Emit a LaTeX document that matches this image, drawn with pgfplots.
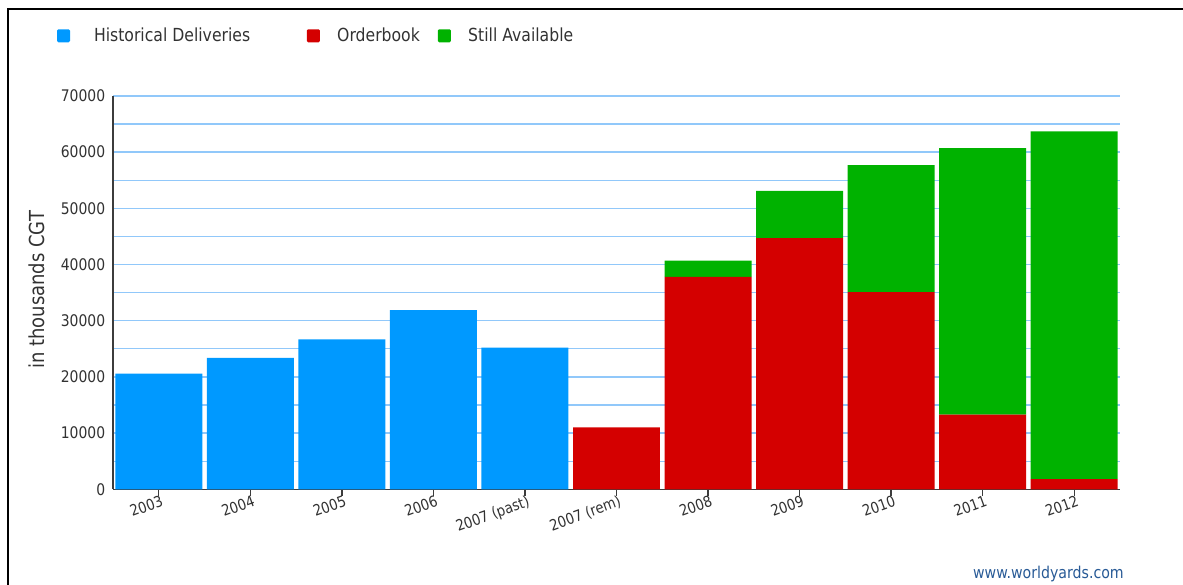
\documentclass[border=0pt]{standalone}
\usepackage{pgfplots}
\pgfplotsset{compat=1.18}
\usepackage{fontspec}
\setmainfont{DejaVu Sans}[FakeStretch=0.87]
\definecolor{cblue}{RGB}{0,153,255}
\definecolor{cred}{RGB}{212,0,0}
\definecolor{cgreen}{RGB}{0,178,0}
\definecolor{cgrid}{RGB}{145,200,250}
\definecolor{caxis}{RGB}{60,60,60}
\definecolor{ctext}{RGB}{50,50,50}
\definecolor{cwm}{RGB}{40,90,150}
\begin{document}
\begin{tikzpicture}
\path[use as bounding box] (0,0) rectangle (887.25pt,438.75pt);
\draw[line width=1.6pt,black] (6pt,-2pt) -- (6pt,432pt) -- (890pt,432pt);
\begin{axis}[
  at={(84.75pt,71.775pt)}, anchor=south west,
  scale only axis, width=755.25pt, height=295pt,
  ybar stacked, bar width=0.95,
  xmin=-0.5, xmax=10.5, ymin=0, ymax=70000,
  xtick={0,...,10},
  xticklabels={2003,2004,2005,2006,2007 (past),2007 (rem),2008,2009,2010,2011,2012},
  ytick={0,10000,...,70000},
  minor ytick={5000,15000,...,65000},
  ymajorgrids, yminorgrids,
  major grid style={color=cgrid, line width=1pt},
  minor grid style={color=cgrid, line width=1pt},
  axis x line*=bottom, axis y line*=left,
  axis line style={color=caxis, line width=1.1pt, -},
  tick align=center, major tick length=9.75pt, minor tick length=0pt,
  xtick style={color=caxis, line width=1pt},
  ytick style={draw=none},
  scaled y ticks=false,
  yticklabel style={font=\fontsize{12}{12}\selectfont, text=ctext, /pgf/number format/1000 sep={}, xshift=2.5pt},
  /pgf/number format/assume math mode=true,
  xticklabel style={font=\fontsize{11.4}{11.4}\selectfont, text=ctext, rotate=20, anchor=north east, inner sep=1pt, xshift=2.5pt, yshift=1.5pt},
  ylabel={in thousands CGT},
  ylabel style={font=\fontsize{15.5}{15.5}\selectfont, text=ctext, at={(axis description cs:-0.0755,0.507)}, anchor=center},
  legend columns=3,
  legend style={at={(axis description cs:-0.0556,1.153)}, anchor=west, draw=none, fill=none,
    inner sep=0pt, outer sep=0pt,
    font=\fontsize{13.5}{13.5}\selectfont, text=ctext,
    nodes={inner sep=0pt},
    /tikz/every odd column/.append style={column sep=13pt},
    /tikz/every even column/.append style={column sep=13.5pt}},
  legend image code/.code={\fill[#1, rounded corners=1pt] (0pt,-4.9pt) rectangle (9.75pt,4.9pt);},
]
\addplot[fill=cblue, draw=none] coordinates {(0,20600) (1,23400) (2,26700) (3,31900) (4,25200) (5,0) (6,0) (7,0) (8,0) (9,0) (10,0)};
\addlegendentry{\hspace*{5pt}Historical Deliveries\rule{29pt}{0pt}}
\addplot[fill=cred, draw=none] coordinates {(0,0) (1,0) (2,0) (3,0) (4,0) (5,11000) (6,37800) (7,44700) (8,35100) (9,13300) (10,1800)};
\addlegendentry{Orderbook}
\addplot[fill=cgreen, draw=none] coordinates {(0,0) (1,0) (2,0) (3,0) (4,0) (5,0) (6,2900) (7,8400) (8,22600) (9,47400) (10,61900)};
\addlegendentry{Still Available}
\end{axis}
\node[anchor=base east, inner sep=0pt, text=cwm, font=\fontsize{12.2}{12.2}\selectfont] at (843pt,5pt) {www.worldyards.com};
\end{tikzpicture}
\end{document}
